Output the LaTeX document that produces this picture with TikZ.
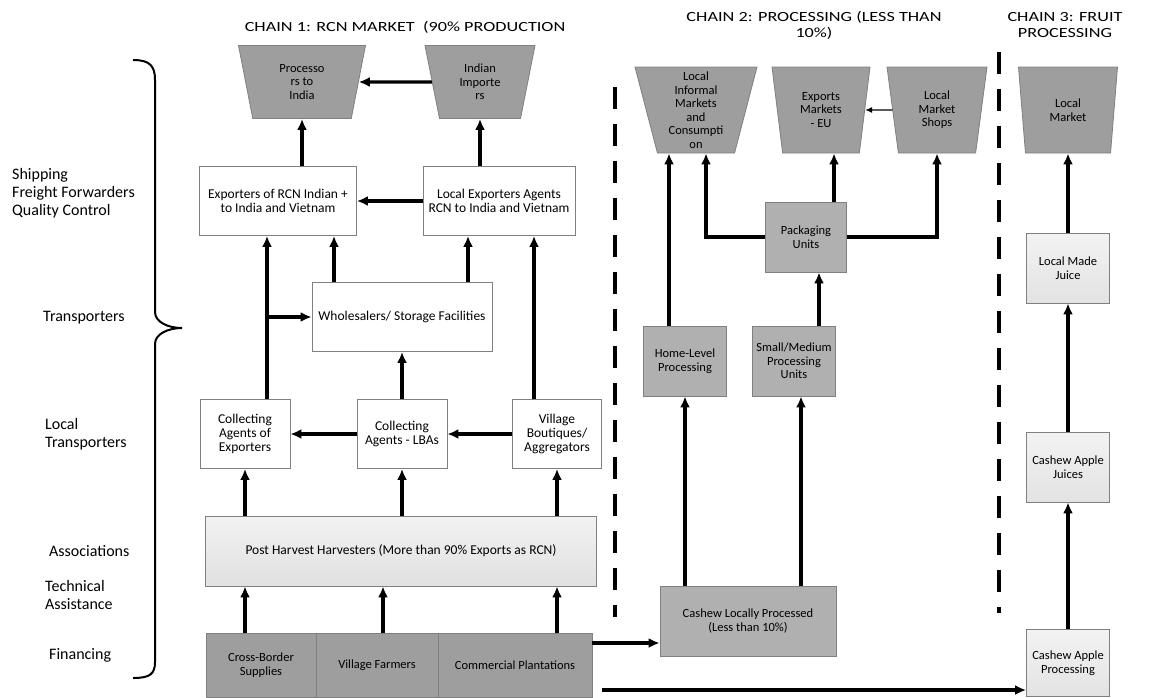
\documentclass[tikz,border=0pt]{standalone}
\usepackage{fontspec}
\setmainfont{Carlito}
\newfontfamily\headfont[FakeStretch=1.3]{Carlito}
\usepackage{tikz}
\usetikzlibrary{shapes.geometric,arrows,arrows.meta,calc,positioning}
\definecolor{darkfill}{gray}{0.62}
\definecolor{midfill}{gray}{0.69}
\definecolor{edgegray}{gray}{0.5}

\tikzset{
  box/.style={rectangle,draw=edgegray,line width=0.8pt,align=center,inner sep=2pt,
    font=\fontsize{13.5}{14}\selectfont},
  smallbox/.style={box,font=\fontsize{12.5}{13.5}\selectfont},
  market/.style={trapezium,shape border rotate=180,trapezium stretches body,
    draw=edgegray,line width=0.8pt,fill=darkfill,align=center,inner sep=1pt,
    font=\fontsize{12.5}{13.5}\selectfont},
  flow/.style={-{Latex[length=11pt,width=10pt]},line width=3.2pt},
  header/.style={align=center,font=\headfont\fontsize{14}{16}\selectfont},
  side/.style={anchor=west,align=left,inner sep=0pt,font=\fontsize{16}{18}\selectfont},
}

\begin{document}
\begin{tikzpicture}[x=1pt,y=-1pt]
   \useasboundingbox (0,0) rectangle (1164,697);
   % headers
   \node[header] (h1) at (405,27) {CHAIN 1: RCN MARKET \ (90\% PRODUCTION};
   \node[header] (h2) at (814,25) {CHAIN 2: PROCESSING (LESS THAN\\10\%)};
   \node[header] (h3) at (1065,25) {CHAIN 3: FRUIT\\PROCESSING};
   % support services
   \node[side] (s1) at (12,193) {Shipping\\Freight Forwarders\\Quality Control};
   \node[side] (s2) at (43,318) {Transporters};
   \node[side] (s3) at (45,434) {Local\\Transporters};
   \node[side] (s4) at (49,551) {Associations};
   \node[side] (s5) at (45,595) {Technical\\Assistance};
   \node[side] (s6) at (49,655) {Financing};
   \draw[line width=2pt] (133,60) .. controls (150,60) and (155,66) .. (155,80) -- (155,312)
      .. controls (155,322) and (168,328) .. (182,328)
      .. controls (168,328) and (155,334) .. (155,344) -- (155,662)
      .. controls (155,674) and (150,678) .. (133,678);
   % chain borders
   \draw[line width=3.5pt,dash pattern=on 22pt off 15pt] (615,87) -- (615,617);
   \draw[line width=3.5pt,dash pattern=on 22pt off 15pt] (999,52) -- (999,613);
   % markets
   \begin{scope}[every node/.style={market,trapezium angle=69,minimum height=73pt}]
    \node (proc) [minimum width=127pt] at (302,82) {Processo\\rs to\\India};
    \node (imp) [minimum width=110pt] at (480,82) {Indian\\Importe\\rs};
   \end{scope}
   \begin{scope}[every node/.style={market,trapezium angle=74,minimum height=86pt}]
    \node (lim) [minimum width=122pt] at (696,110) {Local\\Informal\\Markets\\and\\Consumpti\\on};
    \node (eme) [minimum width=98pt] at (821,110) {Exports\\Markets\\- EU};
    \node (lms) [minimum width=100pt] at (937,110) {Local\\Market\\Shops};
    \node (lm) [minimum width=99pt] at (1068,110) {Local\\Market};
   \end{scope}
   % chain 1 actors
   \begin{scope}[every node/.style={box,fill=white,minimum height=69pt}]
    \node (exp) [minimum width=157pt] at (278,201) {Exporters of RCN Indian +\\to India and Vietnam};
    \node (lexp) [minimum width=152pt] at (499,201) {Local Exporters Agents\\RCN to India and Vietnam};
    \node (whole) [minimum width=180pt] at (402,317) {Wholesalers/ Storage Facilities};
    \node (cae) [minimum width=90pt] at (245,434) {Collecting\\Agents of\\Exporters};
    \node (lba) [minimum width=90pt] at (402,434) {Collecting\\Agents - LBAs};
    \node (vba) [minimum width=89pt] at (557,434) {Village\\Boutiques/\\Aggregators};
   \end{scope}
   \node (phh) [box,top color=gray!10,bottom color=gray!24,minimum width=391pt,minimum height=70pt]
      at (401,551) {Post Harvest Harvesters (More than 90\% Exports as RCN)};
   \begin{scope}[every node/.style={smallbox,fill=darkfill,minimum height=64pt}]
    \node (cbs) [minimum width=110pt] at (261,665) {Cross-Border\\Supplies};
    \node (vf) [minimum width=122pt] at (377,665) {Village Farmers};
    \node (cp) [minimum width=154pt] at (515,665) {Commercial Plantations};
   \end{scope}
   % chain 2 and 3 actors
   \begin{scope}[every node/.style={smallbox,fill=midfill,minimum height=70pt}]
    \node (pack) [minimum width=81pt] at (806,237) {Packaging\\Units};
    \node (hlp) [minimum width=83pt] at (685,361) {Home-Level\\Processing};
    \node (smp) [minimum width=83pt] at (794,361) {Small/Medium\\Processing\\Units};
    \node (clp) [minimum width=176pt] at (748,621) {Cashew Locally Processed\\(Less than 10\%)};
   \end{scope}
   \begin{scope}[every node/.style={smallbox,top color=gray!10,bottom color=gray!22,minimum width=83pt,minimum height=70pt}]
    \node (lmj) at (1068,268) {Local Made\\Juice};
    \node (caj) at (1068,467) {Cashew Apple\\Juices};
    \node (cap) [minimum height=67pt] at (1068,663) {Cashew Apple\\Processing};
   \end{scope}
   % flows
   \begin{scope}[flow]
    \draw (imp) -- (proc);
    \draw (exp.north -| proc.south) -- (proc.south);
    \draw (lexp.north -| imp.south) -- (imp.south);
    \draw (lexp) -- (exp);
    \draw ([xshift=22pt]cae.north) -- ([xshift=22pt]cae.north |- exp.south);
    \draw ([xshift=22pt]cae.north |- whole.west) -- (whole.west);
    \draw ([xshift=-68pt]whole.north) -- ([xshift=-68pt]whole.north |- exp.south);
    \draw ([xshift=66pt]whole.north) -- ([xshift=66pt]whole.north |- lexp.south);
    \draw ([xshift=-23pt]vba.north) -- ([xshift=-23pt]vba.north |- lexp.south);
    \draw (lba) -- (cae);
    \draw (vba) -- (lba);
    \draw (lba) -- (whole);
    \draw (phh.north -| cae) -- (cae.south);
    \draw (phh.north -| lba) -- (lba.south);
    \draw (phh.north -| vba) -- (vba.south);
    \draw (cbs.north -| cae) -- (phh.south -| cae);
    \draw ([xshift=6pt]vf.north) -- ([xshift=6pt]vf.north |- phh.south);
    \draw (cp.north -| vba) -- (phh.south -| vba);
    \draw ([yshift=-22pt]clp.west -| cp.east) -- ([yshift=-22pt]clp.west);
    \draw ([xshift=10pt,yshift=-27pt]cap.west -| cp.east) -- ([yshift=-27pt]cap.west);
    \draw (clp.north -| hlp) -- (hlp.south);
    \draw ([xshift=7pt]smp.south |- clp.north) -- ([xshift=7pt]smp.south);
    \draw ([xshift=-16pt]hlp.north) -- ([xshift=-16pt]hlp.north |- lim.south);
    \draw ([xshift=25pt]smp.north) -- ([xshift=25pt]smp.north |- pack.south);
    \draw ([xshift=28pt]pack.north) -- ([xshift=28pt]pack.north |- eme.south);
    \draw (pack.west) -| ([xshift=10pt]lim.south);
    \draw (pack.east) -| (lms.south);
    \draw (cap) -- (caj);
    \draw (caj) -- (lmj);
    \draw (lmj) -- (lm);
   \end{scope}
   \draw[line width=1.3pt,-{Latex[length=7pt,width=6pt]}] (lms) -- (eme);
\end{tikzpicture}
\end{document}
